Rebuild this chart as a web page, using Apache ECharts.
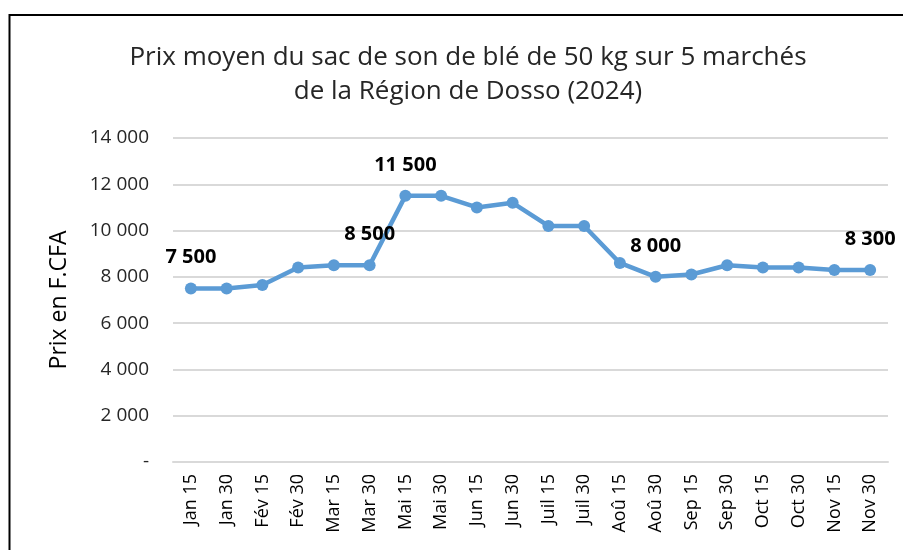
<!DOCTYPE html>
<html>
<head>
<meta charset="utf-8">
<script src="https://cdn.jsdelivr.net/npm/echarts@6/dist/echarts.min.js"></script>
<style>
  html, body { margin: 0; padding: 0; background: #fff; }
  #chart { width: 903px; height: 550px; }
</style>
</head>
<body>
<div id="chart"></div>
<script>
// Prix moyen du sac de son de blé (50 kg) - Dosso 2024
var categories = ['Jan 15', 'Jan 30', 'Fév 15', 'Fév 30', 'Mar 15', 'Mar 30', 'Mai 15', 'Mai 30',
  'Jun 15', 'Jun 30', 'Juil 15', 'Juil 30', 'Aoû 15', 'Aoû 30', 'Sep 15', 'Sep 30',
  'Oct 15', 'Oct 30', 'Nov 15', 'Nov 30'];
var prix = [7500, 7500, 7650, 8400, 8500, 8500, 11500, 11500, 11000, 11200,
  10200, 10200, 8600, 8000, 8100, 8500, 8400, 8400, 8300, 8300];
// points dont la valeur est affichée
var labelled = [0, 5, 6, 13, 19];

var font = '"Open Sans", sans-serif';

function fmt(v) {
  if (v === 0) return '-';
  return String(v).replace(/\B(?=(\d{3})+(?!\d))/g, ' ');
}

var chart = echarts.init(document.getElementById('chart'));
chart.setOption({
  animation: false,
  title: {
    text: 'Prix moyen du sac de son de blé de 50 kg sur 5 marchés\nde la Région de Dosso (2024)',
    left: 463,
    top: 36,
    textAlign: 'center',
    textStyle: { fontFamily: font, fontSize: 26, fontWeight: 'normal', color: '#262626', lineHeight: 34 }
  },
  grid: { left: 173, right: 15, top: 138, bottom: 88 },
  xAxis: {
    type: 'category',
    data: categories,
    axisLine: { lineStyle: { color: '#d9d9d9', width: 2 } },
    axisTick: { show: false },
    axisLabel: { rotate: 90, margin: 12, fontFamily: font, fontSize: 18, color: '#000', interval: 0 }
  },
  yAxis: {
    type: 'value',
    min: 0,
    max: 14000,
    interval: 2000,
    name: 'Prix en F.CFA',
    nameLocation: 'middle',
    nameGap: 102,
    nameTextStyle: { fontFamily: font, fontSize: 23, color: '#000' },
    axisLine: { show: false },
    axisTick: { show: false },
    axisLabel: { formatter: fmt, margin: 24, fontFamily: font, fontSize: 19, color: '#262626' },
    splitLine: { lineStyle: { color: '#d9d9d9', width: 2 } }
  },
  graphic: [{
    type: 'polyline',
    shape: { points: [[9.5, 550], [9.5, 15], [903, 15]] },
    style: { stroke: '#000', lineWidth: 2, fill: null }
  }],
  series: [{
    type: 'line',
    data: prix,
    color: '#5b9bd5',
    lineStyle: { width: 4.5 },
    symbol: 'circle',
    symbolSize: 12,
    label: {
      show: true,
      position: 'top',
      distance: 15,
      fontFamily: font,
      fontSize: 20,
      fontWeight: 'bold',
      color: '#000',
      formatter: function (p) {
        return labelled.indexOf(p.dataIndex) >= 0 ? fmt(p.value) : '';
      }
    }
  }]
});
</script>
</body>
</html>
